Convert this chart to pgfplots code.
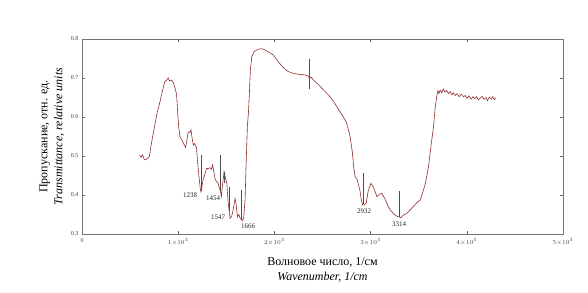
\documentclass[border=0pt]{standalone}
\usepackage{pgfplots}
\pgfplotsset{compat=1.18}
\usepackage{fontspec}
\setmainfont{Liberation Serif}
\definecolor{spec}{RGB}{145,45,45}
\begin{document}
\begin{tikzpicture}
\path (-82pt,-58pt) rectangle (506pt,234pt);
\begin{axis}[
  at={(0,0)}, anchor=south west,
  width=481pt, height=195pt, scale only axis=true,
  xmin=0, xmax=5000, ymin=0.3, ymax=0.8,
  xtick={0,1000,2000,3000,4000,5000},
  xticklabels={0,$1{\times}10^3$,$2{\times}10^3$,$3{\times}10^3$,$4{\times}10^3$,$5{\times}10^3$},
  ytick={0.3,0.4,0.5,0.6,0.7,0.8},
  yticklabels={0.3,0.4,0.5,0.6,0.7,0.8},
  tick align=inside, tick pos=both,
  major tick length=3pt,
  tick label style={font=\fontsize{6}{7}\selectfont, text=black!75},
  xticklabel style={yshift=-1pt},
  axis line style={black!55, line width=0.8pt},
  every tick/.style={black!60, line width=0.6pt},
  xlabel={\shortstack{\fontsize{12}{14}\selectfont Волновое число, 1/см\\[1pt]\fontsize{12}{14}\selectfont\itshape Wavenumber, 1/cm}},
  ylabel={\shortstack{\fontsize{12}{14}\selectfont Пропускание, отн. ед.\\[1pt]\fontsize{12}{14}\selectfont\itshape Transmittance, relative units}},
  xlabel style={yshift=-6pt},
  ylabel style={yshift=0pt},
  unbounded coords=jump,
  clip=false,
]
\addplot[spec, line width=0.6pt] coordinates {
(600,0.502) (615,0.497) (630,0.503) (645,0.492) (660,0.490) (680,0.494) (700,0.498)
(720,0.530) (750,0.570) (780,0.610) (800,0.628) (830,0.660) (860,0.690) (880,0.695)
(897,0.700) (910,0.692) (930,0.695) (949,0.688) (970,0.672) (984,0.656) (995,0.610)
(1005,0.575) (1018,0.550) (1040,0.540) (1060,0.530) (1077,0.522) (1090,0.540)
(1104,0.562) (1120,0.560) (1133,0.567) (1145,0.545) (1157,0.528) (1170,0.532)
(1190,0.522) (1200,0.490) (1215,0.450) (1230,0.415) (1237,0.408) (1245,0.420)
(1260,0.440) (1279,0.455) (1295,0.468) (1313,0.468) (1330,0.470) (1345,0.466)
(1358,0.477) (1370,0.460) (1385,0.440) (1400,0.434) (1415,0.430) (1425,0.420)
(1440,0.410) (1449,0.396) (1460,0.425) (1477,0.460) (1490,0.445) (1505,0.430)
(1520,0.380) (1539,0.340) (1555,0.345) (1570,0.360) (1591,0.391) (1600,0.380)
(1616,0.344) (1630,0.350) (1645,0.340) (1660,0.336) (1667,0.334) (1680,0.340)
(1695,0.387) (1705,0.470) (1713,0.533) (1720,0.580) (1730,0.610) (1740,0.660)
(1750,0.720) (1765,0.755) (1790,0.768) (1834,0.774) (1870,0.775) (1900,0.772)
(1950,0.765) (1990,0.759) (2030,0.745) (2070,0.733) (2112,0.722) (2150,0.716)
(2197,0.712) (2234,0.710) (2270,0.709) (2318,0.708) (2350,0.705) (2364,0.700)
(2380,0.702) (2406,0.695) (2450,0.685) (2500,0.672) (2540,0.662) (2579,0.652)
(2620,0.638) (2660,0.622) (2718,0.600) (2750,0.585) (2787,0.550) (2810,0.510)
(2825,0.470) (2839,0.447) (2860,0.440) (2874,0.426) (2890,0.410) (2905,0.385)
(2919,0.374) (2935,0.375) (2954,0.379) (2975,0.410) (3003,0.430) (3030,0.420)
(3065,0.396) (3090,0.402) (3117,0.404) (3150,0.390) (3180,0.372) (3203,0.362)
(3240,0.352) (3270,0.346) (3290,0.344) (3314,0.342) (3340,0.348) (3370,0.352)
(3394,0.357) (3420,0.364) (3450,0.372) (3480,0.380) (3515,0.387) (3540,0.405)
(3570,0.430) (3602,0.473) (3630,0.530) (3654,0.575) (3670,0.620) (3689,0.656)
(3700,0.668) (3710,0.660) (3723,0.669) (3740,0.662) (3755,0.672) (3770,0.664)
(3790,0.668) (3810,0.660) (3827,0.665) (3845,0.657) (3860,0.662) (3880,0.655)
(3900,0.660) (3920,0.652) (3940,0.658) (3966,0.652) (3985,0.655) (4000,0.648)
(4020,0.654) (4045,0.646) (4065,0.652) (4085,0.647) (4100,0.652) (4120,0.644)
(4140,0.648) (4160,0.653) (4180,0.645) (4200,0.650) (4215,0.642) (4235,0.651)
(4255,0.646) (4270,0.652) (4285,0.644) (4300,0.649)
};
\addplot[black!70, line width=0.4pt] coordinates {
(1242,0.410) (1242,0.503) (1242,nan)
(1437,0.410) (1437,0.503) (1437,nan)
(1480,0.430) (1480,0.460) (1480,nan)
(1532,0.360) (1532,0.421) (1532,nan)
(1658,0.336) (1658,0.413) (1658,nan)
(2926,0.376) (2926,0.456) (2926,nan)
(3300,0.344) (3300,0.409) (3300,nan)
(2364,0.671) (2364,0.748)
};
\begin{scope}[every node/.style={font=\fontsize{7}{8}\selectfont, text=black!85, inner sep=0pt}]
\node at (axis cs:1123,0.400) {1238};
\node at (axis cs:1362,0.392) {1454};
\node at (axis cs:1414,0.344) {1547};
\node at (axis cs:1726,0.320) {1666};
\node at (axis cs:2932,0.359) {2932};
\node at (axis cs:3297,0.326) {3314};
\end{scope}
\end{axis}
\end{tikzpicture}
\end{document}
